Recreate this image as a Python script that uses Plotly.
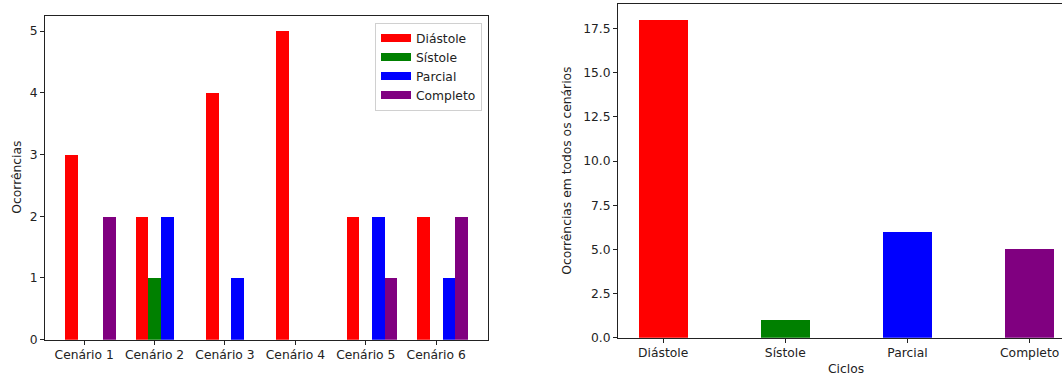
import plotly.graph_objects as go

cenarios = ["Cenário 1", "Cenário 2", "Cenário 3", "Cenário 4", "Cenário 5", "Cenário 6"]
series_names = ["Diástole", "Sístole", "Parcial", "Completo"]
colors = ["red", "green", "blue", "purple"]
diastole = [3, 2, 4, 5, 2, 2]
sistole = [0, 1, 0, 0, 0, 0]
parcial = [0, 2, 1, 0, 2, 1]
completo = [2, 0, 0, 0, 1, 2]
ciclos = ["Diástole", "Sístole", "Parcial", "Completo"]
totais = [18, 1, 6, 5]

W, H = 1062, 381
FONT = "DejaVu Sans"
FS = 12.3

fig = go.Figure()
bw = 0.18
series = [diastole, sistole, parcial, completo]
for i, (name, vals, col) in enumerate(zip(series_names, series, colors)):
    fig.add_trace(go.Bar(
        x=list(range(len(cenarios))), y=vals, name=name,
        marker=dict(color=col, line=dict(width=0)),
        width=bw, offset=-bw * 1.5 + i * bw,
        xaxis="x", yaxis="y", showlegend=False,
    ))
    # legend entry drawn as a matplotlib-like patch (thick short line)
    fig.add_trace(go.Scatter(
        x=[None], y=[None], mode="lines", name=name,
        line=dict(color=col, width=8), xaxis="x", yaxis="y", showlegend=True,
    ))

fig.add_trace(go.Bar(
    x=list(range(len(ciclos))), y=totais, marker=dict(color=colors, line=dict(width=0)),
    width=0.4, xaxis="x2", yaxis="y2", showlegend=False,
))


def px_x(p):
    return p / W


def px_y(p):
    return (H - p) / H


axis_common = dict(
    showgrid=False, zeroline=False, showline=True, linecolor="#222222", linewidth=1,
    ticks="outside", ticklen=4, tickcolor="#222222", tickwidth=1,
    tickfont=dict(family=FONT, size=FS, color="#222222"),
)

title_font = dict(family=FONT, size=FS, color="#222222")

fig.update_layout(
    width=W, height=H, autosize=False,
    margin=dict(l=0, r=0, t=0, b=0),
    paper_bgcolor="white", plot_bgcolor="white",
    barmode="overlay", bargap=0,
    font=dict(family=FONT, size=FS, color="#222222"),
    xaxis=dict(domain=[px_x(45), px_x(488)], anchor="y", range=[-0.556, 5.736],
               tickmode="array", tickvals=list(range(len(cenarios))), ticktext=cenarios,
               mirror=True, **axis_common),
    yaxis=dict(domain=[px_y(346), px_y(16)], anchor="x", range=[0, 5.25],
               tickmode="linear", tick0=0, dtick=1, mirror=True, **axis_common),
    xaxis2=dict(domain=[px_x(618), 1.0], anchor="y2", range=[-0.37, 3.265],
                tickmode="array", tickvals=list(range(len(ciclos))), ticktext=ciclos,
                mirror=True, **axis_common),
    yaxis2=dict(domain=[px_y(344), px_y(4)], anchor="x2", range=[0, 18.9],
                tickmode="linear", tick0=0, dtick=2.5, tickformat=".1f", **axis_common),
    legend=dict(x=px_x(482), y=px_y(23), xanchor="right", yanchor="top",
                bgcolor="rgba(255,255,255,0.8)", bordercolor="#d0d0d0", borderwidth=1,
                font=dict(family=FONT, size=FS, color="#222222"), tracegroupgap=0,
                itemwidth=30),
    annotations=[
        dict(text="Ocorrências", x=px_x(17), y=px_y(181), xref="paper", yref="paper",
             xanchor="center", yanchor="middle", textangle=-90, showarrow=False, font=title_font),
        dict(text="Ocorrências em todos os cenários", x=px_x(567), y=px_y(174), xref="paper", yref="paper",
             xanchor="center", yanchor="middle", textangle=-90, showarrow=False, font=title_font),
        dict(text="Ciclos", x=px_x(846), y=px_y(376), xref="paper", yref="paper",
             xanchor="center", yanchor="middle", showarrow=False, font=title_font),
    ],
)

fig.write_html(
    "out.html",
    config={"displayModeBar": False, "responsive": False},
    post_script="document.body.style.margin='0';document.body.style.overflow='hidden';",
)
